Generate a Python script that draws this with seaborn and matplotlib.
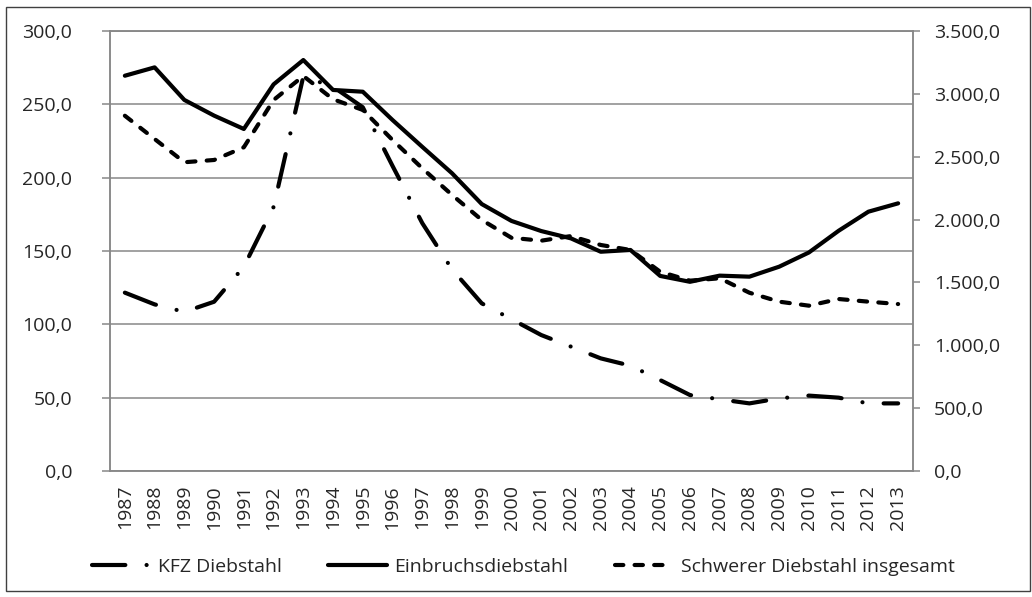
import numpy as np
import pandas as pd
import matplotlib
matplotlib.use("Agg")
import matplotlib.pyplot as plt
import matplotlib.ticker as mticker
from matplotlib.patches import Rectangle
import seaborn as sns

# data
years = list(range(1987, 2014))
kfz = [121.6, 113.6, 108.5, 115.4, 139.3, 180.0, 269.0, 262.0, 248.0, 208.0,
       169.0, 137.5, 114.3, 103.5, 92.7, 84.8, 76.8, 71.8, 62.0, 51.8,
       48.9, 46.1, 49.5, 51.4, 50.0, 46.1, 46.1]
einbruch = [269.5, 275.2, 253.0, 242.3, 233.2, 263.6, 280.2, 259.8, 258.6, 239.3,
            221.0, 203.0, 182.0, 170.5, 163.6, 158.6, 149.5, 150.7, 133.0, 129.0,
            133.2, 132.5, 139.3, 149.0, 163.8, 176.8, 182.5]
schwer = [2826, 2641, 2456, 2474, 2575, 2951, 3142, 2957, 2872, 2633,
          2408, 2196, 1997, 1855, 1832, 1869, 1798, 1758, 1585, 1514,
          1533, 1418, 1347, 1315, 1368, 1347, 1328]

left_ticks = [0, 50, 100, 150, 200, 250, 300]
right_ticks = [0, 500, 1000, 1500, 2000, 2500, 3000, 3500]


def de_fmt(v, pos=None):
    s = f"{v:,.1f}"
    return s.replace(",", "X").replace(".", ",").replace("X", ".")


def main():
    sns.set_style("white")
    plt.rcParams["font.family"] = ["Open Sans", "DejaVu Sans"]
    plt.rcParams["font.size"] = 14

    grey = "#888888"
    df = pd.DataFrame({"pos": np.arange(len(years)), "kfz": kfz,
                       "einbruch": einbruch, "schwer": schwer})

    fig = plt.figure(figsize=(10.32, 5.97), dpi=100)
    ax = fig.add_axes([110 / 1032, 1 - 471 / 597, (913 - 110) / 1032, (471 - 31) / 597])
    ax2 = ax.twinx()

    lw = 3.0
    sns.lineplot(data=df, x="pos", y="kfz", ax=ax, color="black", lw=lw,
                 linestyle=(0, (8.0, 5.1, 0.01, 5.1)), dash_capstyle="round",
                 solid_joinstyle="round", label="KFZ Diebstahl", errorbar=None)
    sns.lineplot(data=df, x="pos", y="einbruch", ax=ax, color="black", lw=lw,
                 solid_capstyle="round", solid_joinstyle="round",
                 label="Einbruchsdiebstahl", errorbar=None)
    sns.lineplot(data=df, x="pos", y="schwer", ax=ax2, color="black", lw=lw,
                 linestyle=(0, (2.0, 2.7)), dash_capstyle="round",
                 label="Schwerer Diebstahl insgesamt", errorbar=None)

    for a in (ax, ax2):
        if a.get_legend() is not None:
            a.get_legend().remove()
        a.set_xlabel("")
        a.set_ylabel("")

    # x axis: categories with tick marks between them
    ax.set_xlim(-0.5, len(years) - 0.5)
    ax.set_xticks(range(len(years)))
    ax.set_xticklabels([str(y) for y in years], rotation=90)
    ax.set_xticks(np.arange(-0.5, len(years), 1), minor=True)
    ax.tick_params(axis="x", which="major", length=0, pad=10)
    ax.tick_params(axis="x", which="minor", length=5, width=1.1, color=grey)

    # left axis
    ax.set_ylim(0, 300)
    ax.set_yticks(left_ticks)
    ax.yaxis.set_major_formatter(mticker.FuncFormatter(de_fmt))
    ax.tick_params(axis="y", left=True, length=5.8, width=1.1, color=grey, pad=21.5)
    ax.grid(axis="y", color=grey, lw=1.1)
    ax.grid(axis="x", visible=False)

    # right axis
    ax2.set_ylim(0, 3500)
    ax2.set_yticks(right_ticks)
    ax2.yaxis.set_major_formatter(mticker.FuncFormatter(de_fmt))
    ax2.tick_params(axis="y", right=True, length=5, width=1.1, color=grey, pad=10)
    ax2.grid(False)

    for a in (ax, ax2):
        for side in ("left", "right", "bottom", "top"):
            a.spines[side].set_color(grey)
            a.spines[side].set_linewidth(1.1)

    handles = ax.get_lines()[:2] + ax2.get_lines()[:1]
    labels = ["KFZ Diebstahl", "Einbruchsdiebstahl", "Schwerer Diebstahl insgesamt"]
    fig.legend(handles, labels, loc="center", bbox_to_anchor=(0.507, 0.05),
               ncol=3, frameon=False, handlelength=3.0, handletextpad=0.4,
               columnspacing=2.4, fontsize=14)

    # outer chart frame
    fig.patches.append(Rectangle((6 / 1032, 1 - 591 / 597), (1030 - 6) / 1032,
                                 (591 - 7) / 597, transform=fig.transFigure,
                                 fill=False, ec="#404040", lw=1.0))

    fig.savefig("out.png", dpi=100)
    plt.close(fig)


if __name__ == "__main__":
    main()
